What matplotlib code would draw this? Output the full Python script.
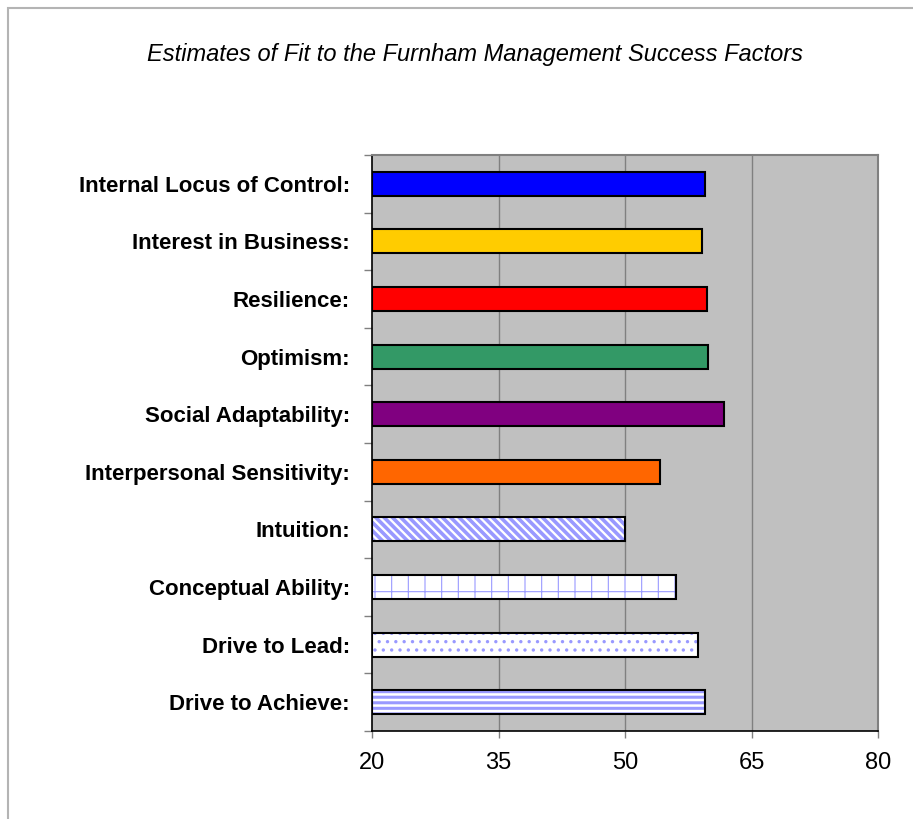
import numpy as np
import matplotlib
matplotlib.use('Agg')
import matplotlib.pyplot as plt
from matplotlib.patches import Rectangle

plt.rcParams['font.family'] = ['Liberation Sans', 'DejaVu Sans']

## chart data, top row first
factors = ['Internal Locus of Control:', 'Interest in Business:', 'Resilience:',
           'Optimism:', 'Social Adaptability:', 'Interpersonal Sensitivity:',
           'Intuition:', 'Conceptual Ability:', 'Drive to Lead:', 'Drive to Achieve:']
scores = [59.5, 59.1, 59.7, 59.8, 61.7, 54.1, 50.0, 56.0, 58.7, 59.5]
fills = ['#0000ff', '#ffcc00', '#ff0000', '#339966', '#800080', '#ff6600',
         'white', 'white', 'white', 'white']
hatches = [None, None, None, None, None, None, '\\\\\\\\', '+', '..', '---']
hatch_widths = [0, 0, 0, 0, 0, 0, 2.6, 0.8, 1.2, 2.2]
xticks = [20, 35, 50, 65, 80]
title = 'Estimates of Fit to the Furnham Management Success Factors'

W, H = 913, 819
fig = plt.figure(figsize=(W / 100, H / 100), dpi=100)
fig.patch.set_facecolor('white')

# chart area frame (only top and left edges fall inside the picture)
fig.add_artist(Rectangle((8 / W, -0.5), 2, 1.5 - 8 / H, transform=fig.transFigure,
                         fill=False, edgecolor='#b4b4b4', linewidth=1.5))

ax = fig.add_axes([372 / W, 1 - 731 / H, (878 - 372) / W, (731 - 155) / H])
ax.set_facecolor('#c0c0c0')

y = np.arange(len(factors))
bar_h = 0.42

for i in range(len(factors)):
    if hatches[i] is None:
        ax.barh(y[i], scores[i] - xticks[0], left=xticks[0], height=bar_h,
                color=fills[i], edgecolor='black', linewidth=1.5, zorder=3)
    else:
        with plt.rc_context({'hatch.linewidth': hatch_widths[i]}):
            b = ax.barh(y[i], scores[i] - xticks[0], left=xticks[0], height=bar_h,
                        color='white', edgecolor='#9999ff', linewidth=0,
                        hatch=hatches[i], zorder=3)
            if hasattr(b[0], 'set_hatch_linewidth'):
                b[0].set_hatch_linewidth(hatch_widths[i])
        ax.barh(y[i], scores[i] - xticks[0], left=xticks[0], height=bar_h,
                fill=False, edgecolor='black', linewidth=1.5, zorder=4)

ax.set_xlim(xticks[0], xticks[-1])
ax.set_ylim(len(factors) - 0.5, -0.5)

ax.set_xticks(xticks)
ax.set_xticklabels([str(t) for t in xticks], fontsize=17)
ax.tick_params(axis='x', length=5, width=1, color='#808080', pad=10)

ax.set_yticks(y)
ax.set_yticklabels(factors, fontsize=16, fontweight='bold')
ax.set_yticks(np.arange(len(factors) + 1) - 0.5, minor=True)
ax.tick_params(axis='y', which='major', length=0, pad=16)
ax.tick_params(axis='y', which='minor', length=6, width=1, color='#808080')

for v in xticks[1:-1]:
    ax.axvline(v, color='#808080', linewidth=1, zorder=1)

for s in ['top', 'right']:
    ax.spines[s].set_color('#808080')
    ax.spines[s].set_linewidth(1.5)
for s in ['left', 'bottom']:
    ax.spines[s].set_color('black')
    ax.spines[s].set_linewidth(1.2)

fig.text(475 / W, 1 - 55 / H, title, ha='center', va='center',
         fontsize=17, style='italic')

plt.savefig('out.png', dpi=100)
plt.close('all')
